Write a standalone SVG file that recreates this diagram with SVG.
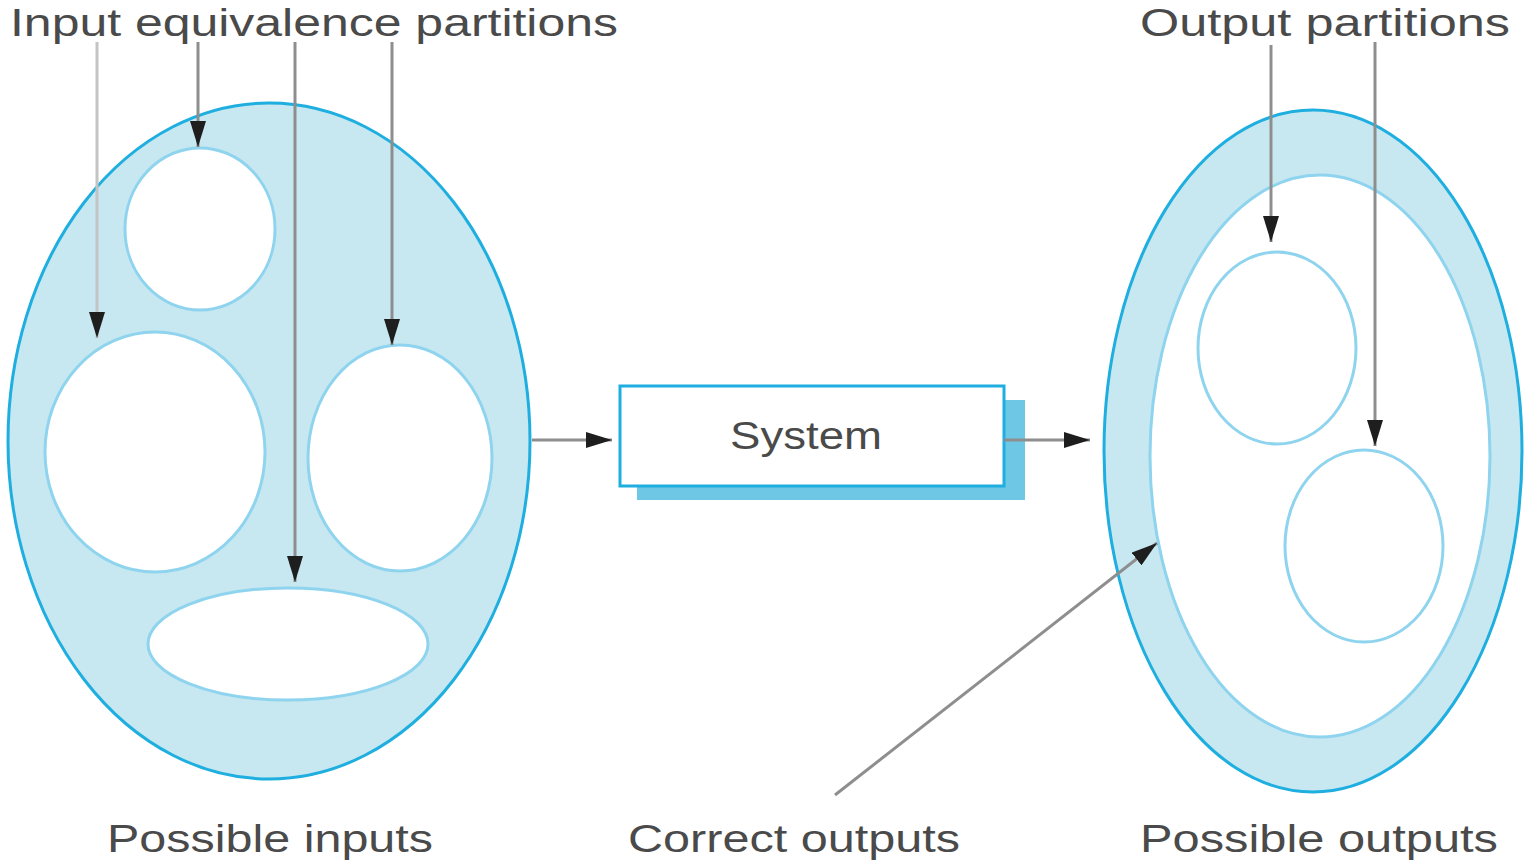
<svg xmlns="http://www.w3.org/2000/svg" width="1524" height="863" viewBox="0 0 1524 863">
<style>
.outer{fill:#c7e7f1;stroke:#1eaedf;stroke-width:3}
.inner{fill:#ffffff;stroke:#8fd4ee;stroke-width:3}
.conn{stroke:#8e8e8e;stroke-width:3;fill:none}
.lbl{font-family:"Liberation Sans",Arial,sans-serif;font-size:38px;fill:#4a4a4a}
</style>
<defs>
<marker id="ah" viewBox="0 0 26 16" refX="26" refY="8" markerWidth="26" markerHeight="16" markerUnits="userSpaceOnUse" orient="auto">
<path d="M0,0 L26,8 L0,16 z" fill="#1e1e1e"/>
</marker>
</defs>
<rect width="1524" height="863" fill="#ffffff"/>
<g id="possible-inputs">
<ellipse class="outer" cx="269" cy="441" rx="261" ry="338"/>
<ellipse class="inner" cx="200" cy="229" rx="75" ry="81"/>
<ellipse class="inner" cx="155" cy="452" rx="110" ry="120"/>
<ellipse class="inner" cx="400" cy="458" rx="92" ry="113"/>
<ellipse class="inner" cx="288" cy="644" rx="140" ry="56"/>
</g>
<g id="system">
<rect x="637" y="400" width="388" height="100" fill="#6fc7e6"/>
<rect x="620" y="386" width="384" height="100" fill="#ffffff" stroke="#1eaedf" stroke-width="3"/>
<text class="lbl" x="806" y="449" text-anchor="middle" font-size="34" textLength="152" lengthAdjust="spacingAndGlyphs">System</text>
</g>
<g id="possible-outputs">
<ellipse class="outer" cx="1313" cy="451" rx="209" ry="341"/>
<ellipse class="inner" cx="1320" cy="456" rx="170" ry="281"/>
<ellipse class="inner" cx="1277" cy="348" rx="79" ry="96"/>
<ellipse class="inner" cx="1364" cy="546" rx="79" ry="96"/>
</g>
<g id="connectors">
<line class="conn" x1="97" y1="42" x2="97" y2="338" stroke="#c4c4c4" marker-end="url(#ah)" style="stroke:#c4c4c4"/>
<line class="conn" x1="198" y1="42" x2="198" y2="147" marker-end="url(#ah)"/>
<line class="conn" x1="295" y1="42" x2="295" y2="582" marker-end="url(#ah)"/>
<line class="conn" x1="392" y1="42" x2="392" y2="345" marker-end="url(#ah)"/>
<line class="conn" x1="1271" y1="45" x2="1271" y2="242" marker-end="url(#ah)"/>
<line class="conn" x1="1375" y1="42" x2="1375" y2="446" marker-end="url(#ah)"/>
<line class="conn" x1="532" y1="440" x2="612" y2="440" marker-end="url(#ah)"/>
<line class="conn" x1="1004" y1="440" x2="1090" y2="440" marker-end="url(#ah)"/>
<line class="conn" x1="835" y1="795" x2="1157" y2="543" marker-end="url(#ah)"/>
</g>
<g id="labels">
<text class="lbl" x="10" y="36" textLength="608" lengthAdjust="spacingAndGlyphs">Input equivalence partitions</text>
<text class="lbl" x="1140" y="36" textLength="370" lengthAdjust="spacingAndGlyphs">Output partitions</text>
<text class="lbl" x="107" y="852" textLength="326" lengthAdjust="spacingAndGlyphs">Possible inputs</text>
<text class="lbl" x="628" y="852" textLength="332" lengthAdjust="spacingAndGlyphs">Correct outputs</text>
<text class="lbl" x="1140" y="852" textLength="358" lengthAdjust="spacingAndGlyphs">Possible outputs</text>
</g>
</svg>
